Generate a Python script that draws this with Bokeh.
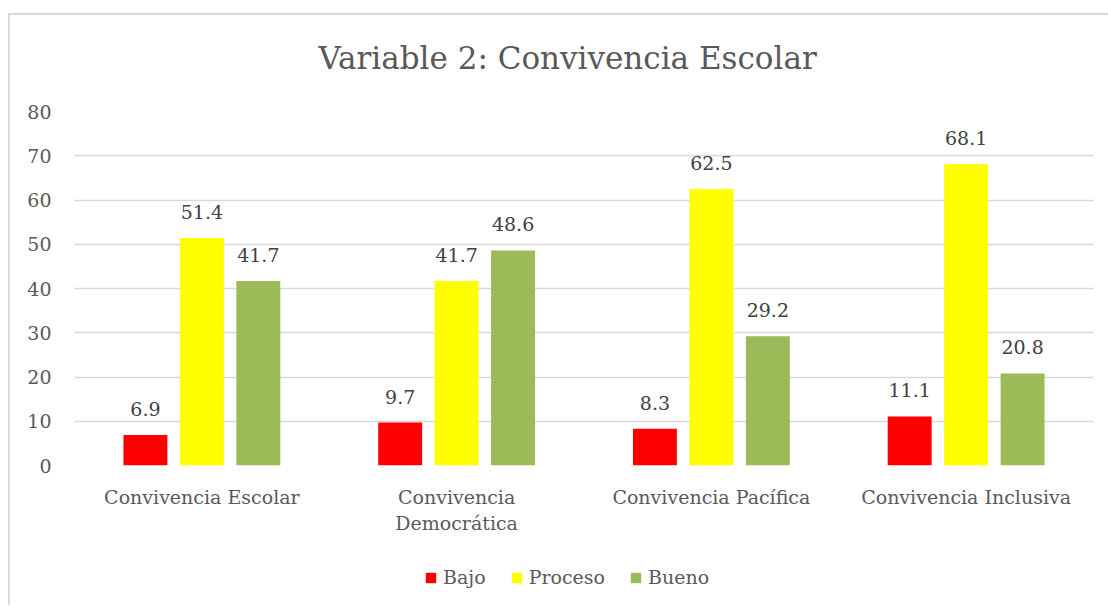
from bokeh.plotting import figure
from bokeh.layouts import column
from bokeh.models import FactorRange, Legend, LegendItem, ColumnDataSource, Range1d
from bokeh.transform import dodge
from bokeh.core.properties import value
from bokeh.embed import file_html
from bokeh.resources import INLINE

categories = ["Convivencia Escolar", "Convivencia\nDemocrática", "Convivencia Pacífica", "Convivencia Inclusiva"]
series_names = ["Bajo", "Proceso", "Bueno"]
bajo = [6.9, 9.7, 8.3, 11.1]
proceso = [51.4, 41.7, 62.5, 68.1]
bueno = [41.7, 48.6, 29.2, 20.8]
y_ticks = [0, 10, 20, 30, 40, 50, 60, 70, 80]

colors = ["#FF0000", "#FFFF00", "#9BBB59"]
FONT = "DejaVu Serif"
EDGE = "linear-gradient(#d9d9d9,#d9d9d9)"

src = ColumnDataSource(dict(
    cat=categories, bajo=bajo, proceso=proceso, bueno=bueno,
    bajo_t=[f"{v:.1f}" for v in bajo],
    proceso_t=[f"{v:.1f}" for v in proceso],
    bueno_t=[f"{v:.1f}" for v in bueno],
))

p = figure(x_range=FactorRange(factors=categories, range_padding=0), y_range=(0, 80),
           width=1108, height=545, output_backend="svg", toolbar_location=None,
           min_border_left=74, min_border_right=15, min_border_top=111, min_border_bottom=80)
p.border_fill_color = None
p.background_fill_color = "white"
p.styles = {"background": f"{EDGE} 8px 13px / 2px calc(100% - 13px) no-repeat, "
                          f"{EDGE} 8px 13px / calc(100% - 8px) 2px no-repeat"}

p.title.text = "Variable 2: Convivencia Escolar"
p.title.text_font = FONT
p.title.text_font_size = "31px"
p.title.text_font_style = "normal"
p.title.text_color = "#595959"
p.title.align = "left"
p.title.offset = 244
p.title.standoff = 71

offsets = [-0.2216, 0.0, 0.2216]
keys = ["bajo", "proceso", "bueno"]
for k, off, c in zip(keys, offsets, colors):
    p.vbar(x=dodge("cat", off, range=p.x_range), top=k, width=0.1725, bottom=0,
           source=src, fill_color=c, line_color=None)
    p.text(x=dodge("cat", off, range=p.x_range), y=k, text=k + "_t", source=src,
           text_font=value(FONT), text_font_size="19px", text_color="#404040",
           text_align="center", text_baseline="middle", y_offset=-26)

p.yaxis.ticker = y_ticks
p.ygrid.ticker = y_ticks
p.xgrid.grid_line_color = None
p.ygrid.grid_line_color = "#d9d9d9"
p.ygrid.grid_line_width = 1.5
p.outline_line_color = None
for ax in (p.xaxis, p.yaxis):
    ax.axis_line_color = None
    ax.major_tick_line_color = None
    ax.minor_tick_line_color = None
    ax.major_label_text_font = FONT
    ax.major_label_text_font_size = "19px"
    ax.major_label_text_color = "#595959"
p.yaxis.major_label_standoff = 17
p.xaxis.major_label_standoff = 14

# legend strip below the chart (its bars lie outside its visible y range)
pl = figure(width=1108, height=60, x_range=FactorRange(factors=categories, range_padding=0),
            y_range=Range1d(1000, 1001), output_backend="svg", toolbar_location=None,
            min_border_left=0, min_border_right=0, min_border_top=0, min_border_bottom=0)
pl.axis.visible = False
pl.grid.visible = False
pl.outline_line_color = None
pl.border_fill_color = None
pl.background_fill_color = None
pl.styles = {"background": f"{EDGE} 8px 0 / 2px 100% no-repeat"}
legend_renderers = [pl.vbar(x=dodge("cat", off, range=pl.x_range), top=k, width=0.1725, bottom=0,
                            source=src, fill_color=c, line_color=None)
                    for k, off, c in zip(keys, offsets, colors)]
legend = Legend(items=[LegendItem(label=n, renderers=[r]) for n, r in zip(series_names, legend_renderers)],
                orientation="horizontal", location=(350, 17))
legend.label_text_font = FONT
legend.label_text_font_size = "19px"
legend.label_text_color = "#595959"
legend.glyph_width = 13
legend.glyph_height = 13
legend.label_standoff = 6
legend.spacing = 24
legend.border_line_color = None
legend.background_fill_alpha = 0
legend.margin = 0
legend.padding = 0
pl.add_layout(legend)

layout = column(p, pl, spacing=0)
open("out.html", "w").write(file_html(layout, INLINE))
